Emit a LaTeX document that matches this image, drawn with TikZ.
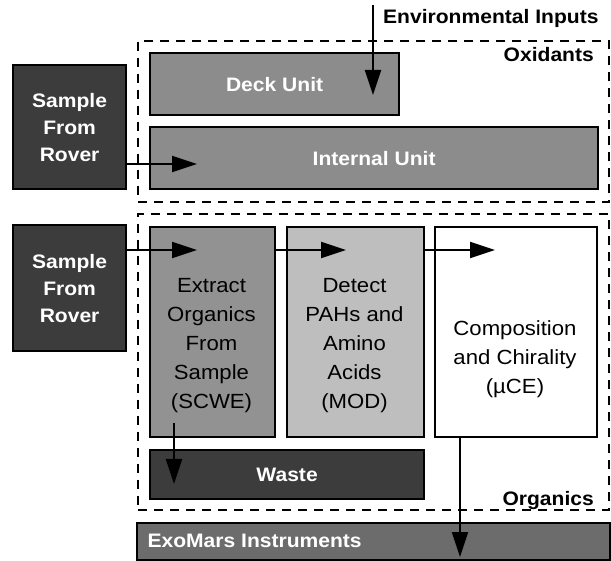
\documentclass[tikz,border=0pt]{standalone}
\usepackage{fontspec}
\setmainfont[FakeStretch=1.08]{Liberation Sans}
\usetikzlibrary{arrows.meta}
\definecolor{darkbox}{RGB}{60,60,60}
\definecolor{midbox}{RGB}{140,140,140}
\definecolor{extractbox}{RGB}{146,146,146}
\definecolor{detectbox}{RGB}{190,190,190}
\definecolor{exobox}{RGB}{108,108,108}
\tikzset{
  box/.style={draw=black, line width=2.2pt, rectangle, inner sep=0pt, anchor=north west},
  grp/.style={draw=black, line width=2.2pt, dash pattern=on 9pt off 7pt, rectangle, inner sep=0pt, anchor=north west},
  btext/.style={font=\fontsize{19.5}{27}\selectfont\bfseries, align=center, text=white},
  rtext/.style={font=\fontsize{20.5}{29}\selectfont, align=center, text=black},
  ltext/.style={font=\fontsize{19.5}{27}\selectfont\bfseries, text=black, inner sep=0pt},
  arr/.style={line width=2pt, -{Triangle[length=25pt,width=16pt]}}
}
\begin{document}
\begin{tikzpicture}[x=1pt,y=-1pt]
\useasboundingbox (0,0) rectangle (611,561);
% group boxes
\node[grp, minimum width=471pt, minimum height=161pt] (oxbox) at (137,40) {};
\node[grp, minimum width=471pt, minimum height=296pt] (orgbox) at (137,213) {};
% oxidants part
\node[box, fill=darkbox, minimum width=113pt, minimum height=124pt, btext] (s1) at (12,64) {Sample\\From\\Rover};
\node[box, fill=midbox, minimum width=249pt, minimum height=62pt, btext] (deck) at (149,52) {Deck Unit};
\node[box, fill=midbox, minimum width=448pt, minimum height=62pt, btext] (internal) at (149,126) {Internal Unit};
% organics part
\node[box, fill=darkbox, minimum width=113pt, minimum height=126pt, btext] (s2) at (12,224) {Sample\\From\\Rover};
\node[box, fill=extractbox, minimum width=125pt, minimum height=210pt] (extract) at (149,226) {};
\node[box, fill=detectbox, minimum width=137pt, minimum height=210pt] (detect) at (286,226) {};
\node[box, fill=white, minimum width=162pt, minimum height=210pt] (comp) at (434,226) {};
\node[rtext] (extractt) at (211.5,346) {Extract\\Organics\\From\\Sample\\(SCWE)};
\node[rtext] (detectt) at (354.5,346) {Detect\\PAHs and\\Amino\\Acids\\(MOD)};
\node[rtext] (compt) at (515,359) {Composition\\and Chirality\\(µCE)};
\node[box, fill=darkbox, minimum width=274pt, minimum height=49pt, btext] (waste) at (149,449) {Waste};
\node[box, fill=exobox, minimum width=473pt, minimum height=37pt] (exo) at (136,522) {};
\node[btext, anchor=west] (exot) at (144,541) {ExoMars Instruments};
% labels
\node[ltext, anchor=base west] (envt) at (383,24) {Environmental Inputs};
\node[ltext, anchor=base east] (oxt) at (594,62) {Oxidants};
\node[ltext, anchor=base east] (orgt) at (594,505) {Organics};
% connectors
\coordinate (envtop) at (373,5);
\coordinate (envtip) at (373,95);
\draw[arr] (envtop) -- (envtip);
\coordinate (a1) at (197,164);
\draw[arr] (s1.east |- a1) -- (a1);
\coordinate (b1) at (197,250);
\coordinate (b2) at (346,250);
\coordinate (b3) at (495,250);
\draw[arr] (s2.east |- b1) -- (b1);
\draw[arr] (extract.east |- b2) -- (b2);
\draw[arr] (detect.east |- b3) -- (b3);
\coordinate (wtop) at (174,423);
\coordinate (wtip) at (174,484);
\draw[arr] (wtop) -- (wtip);
\coordinate (etip) at (460,557);
\draw[arr] (comp.south -| etip) -- (etip);
\end{tikzpicture}
\end{document}
